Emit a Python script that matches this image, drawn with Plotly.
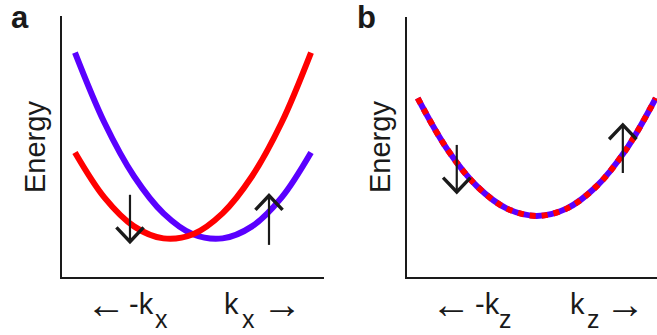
import plotly.graph_objects as go

# ---- data ----
k_a = [-1.0, -0.75, -0.5, -0.25, 0.0, 0.25, 0.5, 0.75, 1.0]
energy_red_a = [4.77, 3.04, 1.94, 1.48, 1.64, 2.44, 3.86, 5.91, 8.60]
energy_blue_a = [8.60, 5.91, 3.86, 2.44, 1.64, 1.48, 1.94, 3.04, 4.77]

k_b = [-1.0, -0.75, -0.5, -0.25, 0.0, 0.25, 0.5, 0.75, 1.0]
energy_b = [6.88, 4.90, 3.48, 2.63, 2.35, 2.63, 3.48, 4.90, 6.88]

# spin arrows: position, tail energy, tip energy
arrow_k_a = [-0.534, 0.644]
arrow_tail_a = [3.15, 1.23]
arrow_tip_a = [1.35, 3.12]

arrow_k_b = [-0.672, 0.723]
arrow_tail_b = [5.08, 4.00]
arrow_tip_b = [3.27, 5.85]

panel_labels = ["a", "b"]
axis_title = "Energy"
dir_arrows = ["←", "→"]
tick_words_a = ["-k", "x", "k", "x"]
tick_words_b = ["-k", "z", "k", "z"]

# ---- style ----
W, H = 657, 335
RED = "#ff0000"
BLUE = "#5a00ff"
INK = "#1a1a1a"
FONT = "Liberation Sans, Arial, sans-serif"
HEAD_DK = 0.115
HEAD_DE = 0.55

fig = go.Figure()

# panel a curves
fig.add_trace(go.Scatter(x=k_a, y=energy_blue_a, mode="lines", line=dict(color=BLUE, width=6, shape="spline"),
                         xaxis="x", yaxis="y", hoverinfo="skip"))
fig.add_trace(go.Scatter(x=k_a, y=energy_red_a, mode="lines", line=dict(color=RED, width=6, shape="spline"),
                         xaxis="x", yaxis="y", hoverinfo="skip"))

# panel b curve: blue underneath, red dashes on top
fig.add_trace(go.Scatter(x=k_b, y=energy_b, mode="lines", line=dict(color=BLUE, width=6, shape="spline"),
                         xaxis="x2", yaxis="y2", hoverinfo="skip"))
fig.add_trace(go.Scatter(x=k_b, y=energy_b, mode="lines", line=dict(color=RED, width=6, shape="spline", dash="6px,6px"),
                         xaxis="x2", yaxis="y2", hoverinfo="skip"))


def add_arrows(ks, tails, tips, xa, ya):
    for k, t0, t1 in zip(ks, tails, tips):
        sgn = 1 if t1 > t0 else -1
        fig.add_trace(go.Scatter(x=[k, k], y=[t0, t1], mode="lines", line=dict(color=INK, width=2.2),
                                 xaxis=xa, yaxis=ya, hoverinfo="skip"))
        fig.add_trace(go.Scatter(x=[k - HEAD_DK, k, k + HEAD_DK],
                                 y=[t1 - sgn * HEAD_DE, t1, t1 - sgn * HEAD_DE],
                                 mode="lines", line=dict(color=INK, width=3.4),
                                 xaxis=xa, yaxis=ya, hoverinfo="skip"))


add_arrows(arrow_k_a, arrow_tail_a, arrow_tip_a, "x", "y")
add_arrows(arrow_k_b, arrow_tail_b, arrow_tip_b, "x2", "y2")

axis_common = dict(showline=True, linecolor=INK, linewidth=1.5, showgrid=False, zeroline=False,
                   showticklabels=False, ticks="", fixedrange=True)

fig.update_layout(
    width=W, height=H, margin=dict(l=0, r=0, t=0, b=0),
    paper_bgcolor="white", plot_bgcolor="white", showlegend=False,
    xaxis=dict(domain=[62 / W, 324 / W], range=[-1.11, 1.11], anchor="y", **axis_common),
    yaxis=dict(domain=[1 - 277 / H, 1 - 16 / H], range=[0, 10], anchor="x", **axis_common),
    xaxis2=dict(domain=[407 / W, 1.0], range=[-1.09, 1.01], anchor="y2", **axis_common),
    yaxis2=dict(domain=[1 - 277 / H, 1 - 17 / H], range=[0, 10], anchor="x2", **axis_common),
)


def txt(text, px, py, size, bold=False, angle=0, xanchor="left", yanchor="middle"):
    fig.add_annotation(text=("<b>%s</b>" % text) if bold else text, x=px / W, y=1 - py / H,
                       xref="paper", yref="paper", xanchor=xanchor, yanchor=yanchor,
                       showarrow=False, textangle=angle, borderpad=0, borderwidth=0,
                       font=dict(family=FONT, size=size, color=INK))


# panel labels
txt(panel_labels[0], 11, 0, 31, bold=True, yanchor="top")
txt(panel_labels[1], 357, 0, 31, bold=True, yanchor="top")

# axis titles
txt(axis_title, 35, 147, 29, angle=-90, xanchor="center")
txt(axis_title, 380, 147, 29, angle=-90, xanchor="center")

# bottom labels panel a
txt(dir_arrows[0], 86, 304, 40)
txt(tick_words_a[0], 129, 304, 29)
txt(tick_words_a[1], 155, 319, 25)
txt(tick_words_a[2], 224, 304, 29)
txt(tick_words_a[3], 242, 319, 25)
txt(dir_arrows[1], 262, 304, 40)

# bottom labels panel b
txt(dir_arrows[0], 431, 304, 40)
txt(tick_words_b[0], 475, 304, 29)
txt(tick_words_b[1], 499, 319, 25)
txt(tick_words_b[2], 570, 304, 29)
txt(tick_words_b[3], 587, 319, 25)
txt(dir_arrows[1], 605, 304, 40)

fig.write_html("out.html")
